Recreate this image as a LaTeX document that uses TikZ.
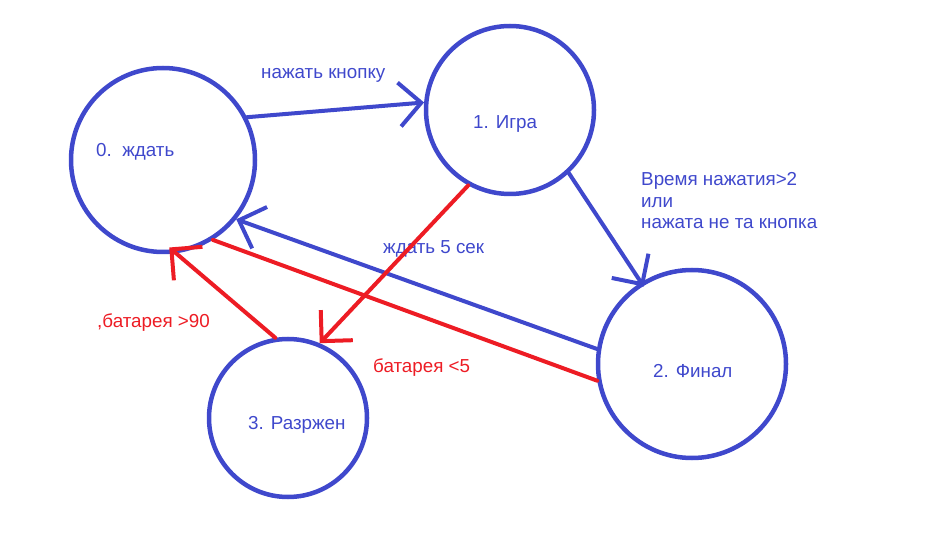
\documentclass[tikz,border=0pt]{standalone}
\usepackage{fontspec}
\setmainfont{Liberation Sans}
\usetikzlibrary{arrows.meta}
\definecolor{stateblue}{RGB}{63,72,204}
\definecolor{alarmred}{RGB}{237,28,36}
\tikzset{
    state/.style={circle, draw=stateblue, line width=4.5pt, inner sep=0pt},
    txt/.style={anchor=base west, inner sep=0pt, font=\fontsize{18.8}{21.5}\selectfont},
    flow/.style={line width=4pt, line cap=round, -{Straight Barb[length=22pt, width=44pt, line width=4pt]}},
    plain/.style={line width=4pt, line cap=round}
}
\begin{document}
\begin{tikzpicture}[x=1pt, y=-1pt]
    \useasboundingbox (0,0) rectangle (936,534);

    % States
    \node[state, minimum size=184pt] (s0) at (163,160) {};
    \node[state, minimum size=168pt] (s1) at (510,110) {};
    \node[state, minimum size=188pt] (s2) at (692,364) {};
    \node[state, minimum size=158pt] (s3) at (288,418) {};
    \node[txt, stateblue] (t0) at (96,157) {0.\ \ ждать};
    \node[txt, stateblue] (t1) at (473,129) {1. Игра};
    \node[txt, stateblue] (t2) at (653,377) {2. Финал};
    \node[txt, stateblue] (t3) at (248,429) {3. Разржен};

    % Blue transitions
    \draw[flow, stateblue] (s0.27) -- (s1.175);
    \draw[flow, stateblue, shorten >=-5pt] (s1.-47) -- (s2.122);
    \draw[flow, stateblue] (s2.171) -- (s0.-39);
    \node[txt, stateblue] (l01) at (261,79) {нажать кнопку};
    \node[txt, stateblue, align=left] (l12) at (641,229) {Время нажатия>2\\или\\нажата не та кнопка};
    \node[txt, stateblue] (l20) at (383,254) {ждать 5 сек};

    % Red transitions
    \draw[flow, alarmred] (s1.-119) -- (s3.67);
    \draw[plain, alarmred] (s2.190) -- (s0.-58);
    \draw[flow, alarmred, shorten >=-9pt] (s3.99) -- (s0.-82);
    \node[txt, alarmred] (l13) at (373,372) {батарея <5};
    \node[txt, alarmred] (l30) at (97,327) {,батарея >90};
\end{tikzpicture}
\end{document}
